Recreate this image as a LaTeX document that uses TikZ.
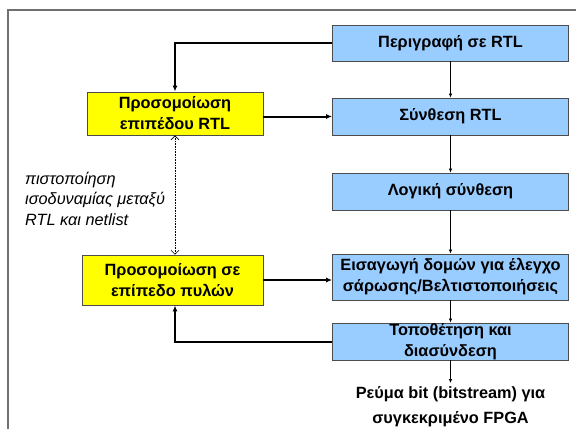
\documentclass[tikz,border=0pt]{standalone}
\usepackage{fontspec}
\setmainfont{Liberation Sans}
\usetikzlibrary{arrows.meta}
\definecolor{boxblue}{HTML}{99CCFF}
\definecolor{boxyellow}{HTML}{FFFF00}
\definecolor{framegray}{HTML}{707070}
\begin{document}
\begin{tikzpicture}[x=1pt,y=-1pt,
  bluebox/.style={draw=black!70, line width=0.8pt, fill=boxblue, minimum width=236pt, inner sep=0pt, align=center, font=\fontsize{16.3}{21}\selectfont\bfseries},
  yellowbox/.style={draw=black!70, line width=0.8pt, fill=boxyellow, inner sep=0pt, align=center, font=\fontsize{16.3}{21}\selectfont\bfseries},
  thin/.style={line width=0.7pt, -{Latex[length=4pt,width=3.5pt]}},
  thick/.style={line width=2pt, -{Latex[length=6pt,width=5pt]}},
  dotarrow/.style={densely dotted, line width=0.6pt, {Straight Barb[length=4pt,width=8pt]}-{Straight Barb[length=4pt,width=8pt]}}
]
\useasboundingbox (0,0) rectangle (576,429);
\draw[framegray, line width=1.2pt] (8,429) -- (8,10) -- (576,10);

\node[bluebox, minimum height=36pt] (b1) at (450.5,43) {Περιγραφή σε RTL};
\node[bluebox, minimum height=37pt] (b2) at (450.5,116.5) {Σύνθεση RTL};
\node[bluebox, minimum height=37pt] (b3) at (450.5,191.5) {Λογική σύνθεση};
\node[bluebox, minimum height=46pt] (b4) at (450.5,277) {Εισαγωγή δομών για έλεγχο\\σάρωσης/Βελτιστοποιήσεις};
\node[bluebox, minimum height=37pt] (b5) at (450.5,341.5) {Τοποθέτηση και\\διασύνδεση};
\node[align=center, anchor=north, inner sep=0pt, font=\fontsize{16.3}{25}\selectfont\bfseries] (out) at (450.5,386) {Ρεύμα bit (bitstream) για\\συγκεκριμένο FPGA};

\node[yellowbox, minimum width=176pt, minimum height=43pt] (y1) at (175,113.5) {Προσομοίωση\\επιπέδου RTL};
\node[yellowbox, minimum width=181pt, minimum height=50pt] (y2) at (172.5,280) {Προσομοίωση σε\\επίπεδο πυλών};

\node[align=left, anchor=north west, inner sep=0pt, font=\fontsize{16.3}{20.5}\selectfont\itshape] (note) at (25,172) {πιστοποίηση\\ισοδυναμίας μεταξύ\\RTL και netlist};

\draw[thin] (b1) -- (b2);
\draw[thin] (b2) -- (b3);
\draw[thin] (b3) -- (b4);
\draw[thin] (b4) -- (b5);
\draw[thin] (b5.south) -- ([yshift=3pt]out.north);

\draw[thick] (b1.west) -| (y1.north -| 175,0);
\draw[thick] (y1.east |- b2.west) -- (b2.west);
\draw[thick] (y2.east) -- (y2.east -| b4.west);
\draw[thick] (b5.west) -| (y2.south -| 175,0);
\draw[dotarrow] (y1.south -| 175,0) -- (y2.north -| 175,0);
\end{tikzpicture}
\end{document}
